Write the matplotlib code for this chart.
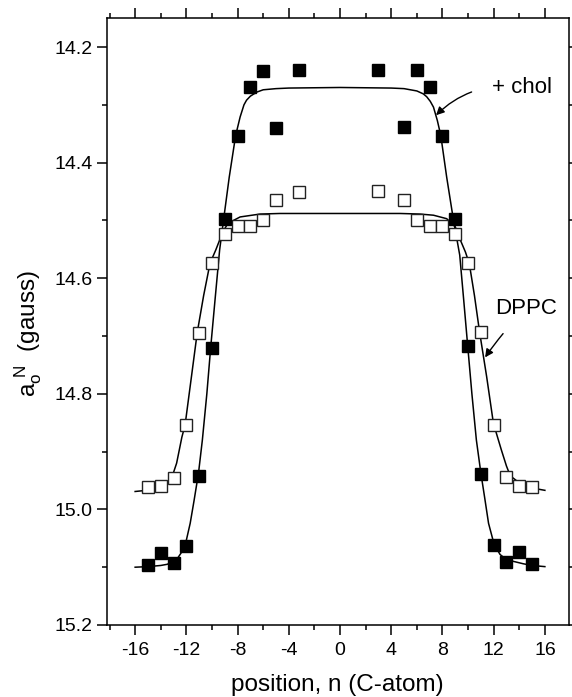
import matplotlib
matplotlib.use('Agg')
import matplotlib.pyplot as plt

plt.rcParams['font.family'] = ['Liberation Sans', 'DejaVu Sans']
plt.rcParams['mathtext.default'] = 'regular'
plt.rcParams['axes.unicode_minus'] = False

# measured hyperfine splittings, filled = DPPC + cholesterol, open = DPPC
chol_x = [-15, -14, -13, -12, -11, -10, -9, -8, -7, -6, -5, -3.2,
          3.0, 5, 6, 7, 8, 9, 10, 11, 12, 13, 14, 15]
chol_y = [15.096, 15.075, 15.093, 15.063, 14.942, 14.72, 14.498, 14.354, 14.27, 14.242, 14.34, 14.24,
          14.239, 14.339, 14.24, 14.27, 14.354, 14.498, 14.718, 14.939, 15.061, 15.091, 15.073, 15.095]

dppc_x = [-15, -14, -13, -12, -11, -10, -9, -8, -7, -6, -5, -3.2,
          3.0, 5, 6, 7, 8, 9, 10, 11, 12, 13, 14, 15]
dppc_y = [14.962, 14.959, 14.945, 14.854, 14.695, 14.574, 14.524, 14.51, 14.51, 14.50, 14.465, 14.45,
          14.449, 14.465, 14.50, 14.51, 14.51, 14.523, 14.574, 14.693, 14.854, 14.944, 14.959, 14.961]

# fitted curves
chol_fit_x = [-16, -15, -14, -13.5, -13, -12.7, -12.4, -12.1, -11.7, -11.4, -11.05, -10.75,
              -10.4, -10.1, -9.75, -9.4, -9.1, -8.65, -8.15, -7.8, -7.5, -7.3, -7.0, -6.5,
              -6.0, -5, -4, 0, 4, 5, 6.0, 6.5, 6.77, 7.05, 7.3, 7.6, 7.87, 8.33, 8.85,
              9.35, 9.65, 9.98, 10.3, 10.65, 11.0, 11.3, 11.6, 12.03, 12.5, 13.0, 14.3, 15, 16]
chol_fit_y = [15.100, 15.099, 15.097, 15.095, 15.090, 15.085, 15.075, 15.063, 15.024, 14.985, 14.937, 14.88,
              14.80, 14.72, 14.635, 14.551, 14.50, 14.425, 14.353, 14.321, 14.30, 14.292, 14.285, 14.278,
              14.274, 14.272, 14.271, 14.270, 14.271, 14.272, 14.276, 14.281, 14.286, 14.294, 14.304, 14.327, 14.353, 14.425, 14.498,
              14.56, 14.635, 14.719, 14.80, 14.88, 14.937, 14.98, 15.024, 15.06, 15.078, 15.087, 15.094, 15.097, 15.099]

dppc_fit_x = [-16, -15.1, -14.06, -13.6, -13.3, -13.0, -12.76, -12.55, -12.35, -12.1, -11.6, -11.15,
              -10.65, -10.15, -9.7, -9.4, -9.1, -8.75, -7.8, -6.25, -4.7, 0, 4.7, 6.25, 7.3, 8.33, 9.0,
              9.4, 9.8, 10.1, 10.5, 10.9, 11.45, 11.98, 12.37, 12.6, 13.0, 13.3, 14.06, 15, 16]
dppc_fit_y = [14.969, 14.967, 14.962, 14.956, 14.949, 14.936, 14.92, 14.897, 14.875, 14.854, 14.77, 14.694,
              14.63, 14.574, 14.551, 14.534, 14.518, 14.505, 14.494, 14.489, 14.488, 14.488, 14.488, 14.489, 14.491, 14.497, 14.511,
              14.534, 14.555, 14.575, 14.63, 14.693, 14.77, 14.851, 14.88, 14.897, 14.925, 14.942, 14.955, 14.963, 14.967]

fig = plt.figure(figsize=(5.72, 6.97), dpi=100)
ax = fig.add_axes([0.187, 0.1033, 0.807, 0.8707])

ax.plot(chol_fit_x, chol_fit_y, color='black', lw=1.1, zorder=2)
ax.plot(dppc_fit_x, dppc_fit_y, color='black', lw=1.1, zorder=2)
ax.plot(dppc_x, dppc_y, linestyle='none', marker='s', markersize=8.5,
        markerfacecolor='white', markeredgecolor='#222222', markeredgewidth=1.0, zorder=3)
ax.plot(chol_x, chol_y, linestyle='none', marker='s', markersize=9,
        markerfacecolor='black', markeredgecolor='black', zorder=4)

ax.set_xlim(-18.2, 17.85)
ax.set_ylim(15.2, 14.15)

ax.set_xticks(range(-16, 17, 4))
ax.set_xticks(range(-18, 18, 2), minor=True)
ax.set_yticks([14.2, 14.4, 14.6, 14.8, 15.0, 15.2])
ax.set_yticklabels(['14.2', '14.4', '14.6', '14.8', '15.0', '15.2'])
ax.set_yticks([14.3, 14.5, 14.7, 14.9, 15.1], minor=True)

ax.tick_params(which='both', direction='out', width=1.1, top=True, right=True, labelsize=14)
ax.tick_params(which='major', length=7)
ax.tick_params(which='minor', length=3.5)
ax.tick_params(axis='x', pad=5)
ax.tick_params(axis='y', pad=3.5)
for s in ax.spines.values():
    s.set_linewidth(1.1)

ax.set_xlabel('position, n (C-atom)', fontsize=17.5, labelpad=11)
ax.set_ylabel(r'a$_{o}^{\ N}$  (gauss)', fontsize=17.5)
ax.yaxis.set_label_coords(-0.137, 0.48)

ax.annotate('+ chol', xy=(7.5, 14.318), xytext=(14.2, 14.27), fontsize=16,
            ha='center', va='center',
            arrowprops=dict(arrowstyle='-|>', color='black', lw=1.0, shrinkA=13, shrinkB=0,
                            connectionstyle='arc3,rad=0.25', mutation_scale=12))
ax.annotate('DPPC', xy=(11.33, 14.737), xytext=(14.53, 14.653), fontsize=16,
            ha='center', va='center',
            arrowprops=dict(arrowstyle='-|>', color='black', lw=1.0, shrinkA=11, shrinkB=0,
                            connectionstyle='arc3,rad=0.05', mutation_scale=12))

plt.savefig('out.png', dpi=100)
